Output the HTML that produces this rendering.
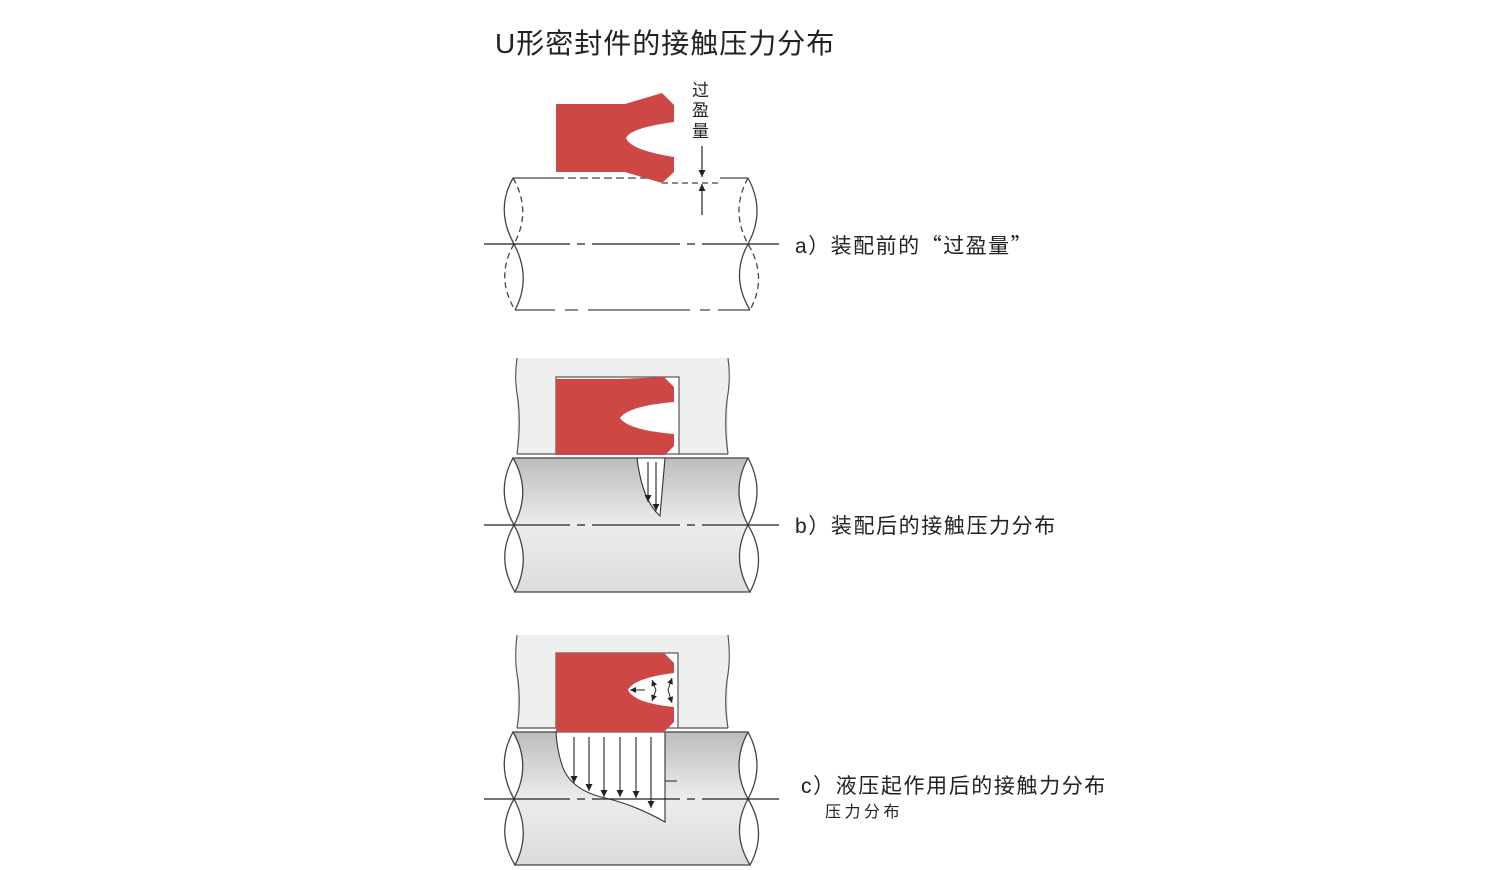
<!DOCTYPE html>
<html><head><meta charset="utf-8"><style>
html,body{margin:0;padding:0;background:#fff;}
svg{display:block;}
text{font-family:"Liberation Sans","Noto Sans CJK SC",sans-serif;fill:#222;}
.cjk{font-family:"Noto Sans CJK SC",sans-serif;}
</style></head><body>
<svg width="1512" height="870" viewBox="0 0 1512 870" xmlns="http://www.w3.org/2000/svg">
<defs>
<linearGradient id="g" x1="0" y1="0" x2="0" y2="1">
<stop offset="0" stop-color="#bdbdbd"/><stop offset="0.5" stop-color="#ececec"/><stop offset="1" stop-color="#dcdcdc"/>
</linearGradient>
<marker id="ar" viewBox="0 0 10 10" refX="10" refY="5" markerWidth="11" markerHeight="7" orient="auto" markerUnits="userSpaceOnUse"><path d="M0,0 L10,5 L0,10z" fill="#222"/></marker>
<marker id="as" viewBox="0 0 10 10" refX="10" refY="5" markerWidth="8" markerHeight="6" orient="auto" markerUnits="userSpaceOnUse"><path d="M0,0 L10,5 L0,10z" fill="#222"/></marker>
</defs>

<text x="495" y="53" font-size="28" letter-spacing="1">U形密封件的接触压力分布</text>

<!-- ===== a ===== -->
<g stroke="#444" stroke-width="1.3" fill="none">
<path d="M513,178 L556,178"/>
<path d="M556,178 L662,178" stroke-dasharray="8,4"/>
<path d="M662,183 L720,183" stroke-dasharray="6,4"/>
<path d="M720,178 L748,178"/>
<path d="M515,310 L555,310 M565,310 L578,310 M588,310 L690,310 M700,310 L710,310 M718,310 L750,310"/>
<path d="M513,178 Q495,210 514,244 Q532,278 515,310" />
<path d="M514,244 Q495,277 515,310" stroke-dasharray="6,4"/>
<path d="M513,178 Q532,211 514,244" stroke-dasharray="6,4"/>
<path d="M748,178 Q766,211 748,244 Q730,277 750,310"/>
<path d="M748,178 Q730,211 748,244 Q768,277 750,310" stroke-dasharray="6,4"/>
<path d="M484,244 L570,244 M577,244 L585,244 M592,244 L680,244 M687,244 L695,244 M702,244 L779,244" stroke="#222"/>
</g>
<path d="M556,104 L625,104 L662,93 L674,105 L674,122 Q630,128 626,138 Q630,150 674,157 L674,172 L662,183 L625,172 L556,172 Z" fill="#cd4745"/>
<g stroke="#222" stroke-width="1.2">
<line x1="702" y1="146" x2="702" y2="177" marker-end="url(#ar)"/>
<line x1="702" y1="215" x2="702" y2="184" marker-end="url(#ar)"/>
</g>
<text x="692" y="96" font-size="17">过</text>
<text x="692" y="116" font-size="17">盈</text>
<text x="692" y="137" font-size="17">量</text>
<text x="795" y="253" font-size="21" letter-spacing="1.5">a）装配前的<tspan class="cjk">“</tspan>过盈量<tspan class="cjk">”</tspan></text>

<!-- ===== b ===== -->
<rect x="517" y="358" width="211" height="96" fill="#efefef"/>
<path d="M517,358 Q514,380 518,400 Q521,425 517,454 M728,358 Q731,380 727,400 Q724,425 728,454" stroke="#555" fill="none" stroke-width="1.2"/>
<path d="M517,454 L556,454 M679,454 L728,454" stroke="#555" stroke-width="1.2"/>
<rect x="556" y="377" width="123" height="77" fill="#fff" stroke="#555" stroke-width="1.2"/>
<path d="M513,458 L748,458 Q730,491 748,525 Q730,558 750,592 L515,592 Q532,558 514,525 Q532,491 513,458 Z" fill="url(#g)" stroke="#444" stroke-width="1.3"/>
<path d="M748,458 Q766,491 748,525 Q768,558 750,592" fill="none" stroke="#444" stroke-width="1.3"/>
<path d="M513,458 Q495,491 514,525 Q495,558 515,592" fill="none" stroke="#444" stroke-width="1.3"/>
<path d="M637,458 L665,458 L660,516 Q642,500 637,458 Z" fill="#fff" stroke="#333" stroke-width="1.1"/>
<g stroke="#222" stroke-width="1.1">
<line x1="648" y1="462" x2="648" y2="502" marker-end="url(#ar)"/>
<line x1="656" y1="462" x2="656" y2="511" marker-end="url(#ar)"/>
</g>
<path d="M484,525 L570,525 M577,525 L585,525 M592,525 L680,525 M687,525 L695,525 M702,525 L779,525" stroke="#222" stroke-width="1.3"/>
<path d="M556,379 L620,379 L664,377 L674,387 L674,402 Q628,406 620,418 Q628,430 674,434 L674,446 L665,455 L624,455 L556,455 Z" fill="#cd4745"/>
<text x="795" y="533" font-size="21" letter-spacing="1.6">b）装配后的接触压力分布</text>

<!-- ===== c ===== -->
<rect x="517" y="635" width="211" height="93" fill="#efefef"/>
<path d="M517,635 Q514,660 518,680 Q521,705 517,728 M728,635 Q731,660 727,680 Q724,705 728,728" stroke="#555" fill="none" stroke-width="1.2"/>
<path d="M517,728 L556,728 M678,728 L728,728" stroke="#555" stroke-width="1.2"/>
<rect x="556" y="653" width="122" height="75" fill="#fff" stroke="#555" stroke-width="1.2"/>
<path d="M513,732 L748,732 Q730,765 748,799 Q730,832 750,865 L515,865 Q532,832 514,799 Q532,765 513,732 Z" fill="url(#g)" stroke="#444" stroke-width="1.3"/>
<path d="M748,732 Q766,765 748,799 Q768,832 750,865" fill="none" stroke="#444" stroke-width="1.3"/>
<path d="M513,732 Q495,765 514,799 Q495,832 515,865" fill="none" stroke="#444" stroke-width="1.3"/>
<path d="M556,732 L665,732 L665,822 Q635,805 605,798 Q570,790 562,765 Q557,750 556,732 Z" fill="#fff" stroke="#333" stroke-width="1.1"/>
<path d="M665,781 L677,781" stroke="#333" stroke-width="1.1"/>
<path d="M484,799 L570,799 M577,799 L585,799 M592,799 L680,799 M687,799 L695,799 M702,799 L779,799" stroke="#222" stroke-width="1.3"/>
<g stroke="#222" stroke-width="1.1">
<line x1="574" y1="737" x2="574" y2="783" marker-end="url(#ar)"/>
<line x1="589" y1="737" x2="589" y2="791" marker-end="url(#ar)"/>
<line x1="604" y1="737" x2="604" y2="797" marker-end="url(#ar)"/>
<line x1="620" y1="737" x2="620" y2="797" marker-end="url(#ar)"/>
<line x1="636" y1="737" x2="636" y2="798" marker-end="url(#ar)"/>
<line x1="651" y1="737" x2="651" y2="808" marker-end="url(#ar)"/>
</g>
<path d="M556,653 L664,653 L674,663 L674,673 Q634,678 628,690 Q634,703 674,707 L674,722 L664,732 L556,732 Z" fill="#cd4745"/>
<g stroke="#222" stroke-width="1">
<line x1="645" y1="690" x2="630" y2="690" marker-end="url(#as)"/>
<line x1="656" y1="690" x2="652" y2="680" marker-end="url(#as)"/>
<line x1="656" y1="690" x2="652" y2="701" marker-end="url(#as)"/>
<line x1="668" y1="690" x2="672" y2="678" marker-end="url(#as)"/>
<line x1="668" y1="690" x2="672" y2="703" marker-end="url(#as)"/>
</g>
<text x="801" y="793" font-size="21" letter-spacing="1.6">c）液压起作用后的接触力分布</text>
<text x="825" y="817" font-size="16" letter-spacing="3.5">压力分布</text>
</svg>
</body></html>
